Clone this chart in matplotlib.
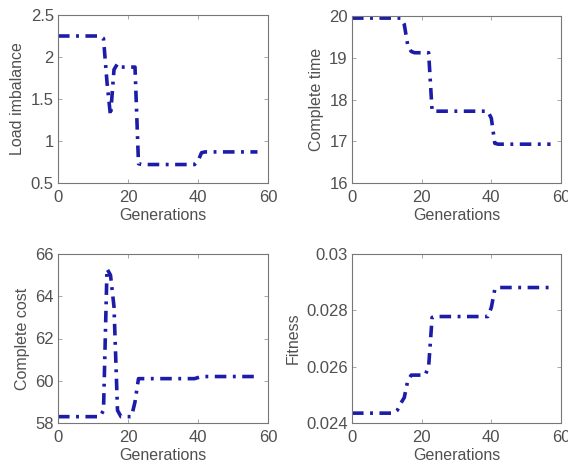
import matplotlib
matplotlib.use("Agg")
import matplotlib.pyplot as plt
import numpy as np

plt.rcParams['font.family'] = ['Liberation Sans', 'DejaVu Sans']

# ===== DADOS =====
generations = np.arange(0, 58)

load_imbalance = ([2.25] * 13 + [2.22, 1.70, 1.30, 1.85, 1.92] + [1.88] * 5 +
                  [0.73] + [0.72] * 16 + [0.76, 0.86] + [0.87] * 16)

complete_time = ([19.95] * 15 + [19.80, 19.30, 19.15] + [19.12] * 5 +
                 [17.72] * 17 + [17.55, 16.95] + [16.93] * 16)

complete_cost = ([58.3] * 13 + [58.6, 65.3, 65.0, 63.5, 58.6] + [58.3] * 4 +
                 [59.0, 60.1] + [60.1] * 16 + [60.15, 60.2] + [60.2] * 16)

fitness = ([0.02435] * 13 + [0.02445, 0.0247, 0.0249, 0.0255, 0.0257] +
           [0.0257] * 4 + [0.0260, 0.02775] + [0.02778] * 16 +
           [0.0281, 0.02875] + [0.02881] * 16)

series = [
    (load_imbalance, "Load imbalance", (0.5, 2.5), [0.5, 1, 1.5, 2, 2.5], ["0.5", "1", "1.5", "2", "2.5"]),
    (complete_time, "Complete time", (16, 20), [16, 17, 18, 19, 20], ["16", "17", "18", "19", "20"]),
    (complete_cost, "Complete cost", (58, 66), [58, 60, 62, 64, 66], ["58", "60", "62", "64", "66"]),
    (fitness, "Fitness", (0.024, 0.03), [0.024, 0.026, 0.028, 0.03], ["0.024", "0.026", "0.028", "0.03"]),
]

# posições dos eixos em pixels (esq, dir, topo, base)
boxes = [(58, 268, 15, 183), (352, 561, 16, 183), (58, 268, 254, 423), (352, 561, 254, 423)]

W, H = 568, 466
fig = plt.figure(figsize=(W / 100, H / 100), dpi=100)

txt = '#505050'
for (y, lab, ylim, yt, ytl), (l, r, t, b) in zip(series, boxes):
    ax = fig.add_axes([l / W, 1 - b / H, (r - l) / W, (b - t) / H])
    ax.plot(generations, y, color='#1c1ca8', lw=2.6, dashes=(3.2, 1.8, 0.8, 1.8))
    ax.set_xlim(0, 60)
    ax.set_ylim(*ylim)
    ax.set_xticks([0, 20, 40, 60])
    ax.set_yticks(yt)
    ax.set_yticklabels(ytl)
    ax.tick_params(direction='in', top=True, right=True, length=3, width=0.6,
                   labelsize=12, colors='#999999', labelcolor=txt)
    ax.tick_params(axis='x', pad=5)
    ax.tick_params(axis='y', pad=3)
    for s in ax.spines.values():
        s.set_color('#777777')
        s.set_linewidth(0.8)
    ax.set_xlabel("Generations", fontsize=11.5, color=txt, labelpad=2)
    ax.set_ylabel(lab, fontsize=11.5, color=txt, labelpad=4)

fig.savefig("out.png", dpi=100)
